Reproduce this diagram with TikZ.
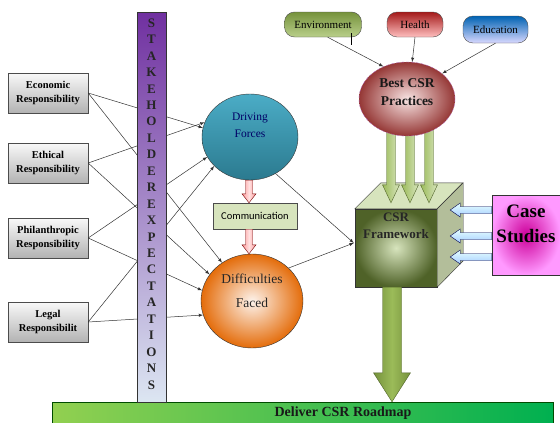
\documentclass[tikz,border=0pt]{standalone}
\usepackage{fontspec}
\setmainfont{Liberation Serif}
\newfontfamily\calfont{Carlito}
\usepackage{tikz}
\usetikzlibrary{shapes,arrows,positioning,calc}

\definecolor{stakeT}{HTML}{7030A0}
\definecolor{stakeM}{HTML}{B3A2C7}
\definecolor{stakeB}{HTML}{DCE6F2}
\definecolor{driveT}{HTML}{4BACC6}
\definecolor{driveB}{HTML}{2B7A8F}
\definecolor{diffIn}{HTML}{FDF3EC}
\definecolor{diffOut}{HTML}{E46C0A}
\definecolor{commG}{HTML}{D7E4BD}
\definecolor{oliveL}{HTML}{D7E4BD}
\definecolor{oliveM}{HTML}{9BBB59}
\definecolor{oliveD}{HTML}{76923C}
\definecolor{oliveX}{HTML}{4F6228}
\definecolor{sideG}{HTML}{B3BE9A}
\definecolor{bestIn}{HTML}{F8E4E3}
\definecolor{bestOut}{HTML}{953735}
\definecolor{caseIn}{HTML}{CC0099}
\definecolor{caseOut}{HTML}{FF99FF}
\definecolor{roadL}{HTML}{92D050}
\definecolor{roadR}{HTML}{00B050}

% block arrow pointing down: style, from, to, half shaft, half head, head length
\newcommand{\dblock}[6]{%
  \path[#1] ($(#2)+(-#4,0)$) -- ($(#2|-#3)+(-#4,-#6)$) -- ($(#2|-#3)+(-#5,-#6)$)
    -- (#2|-#3) -- ($(#2|-#3)+(#5,-#6)$) -- ($(#2|-#3)+(#4,-#6)$)
    -- ($(#2)+(#4,0)$) -- cycle;}
% block arrow pointing left
\newcommand{\lblock}[6]{%
  \path[#1] ($(#2)+(0,-#4)$) -- ($(#3|-#2)+(#6,-#4)$) -- ($(#3|-#2)+(#6,-#5)$)
    -- (#3|-#2) -- ($(#3|-#2)+(#6,#5)$) -- ($(#3|-#2)+(#6,#4)$)
    -- ($(#2)+(0,#4)$) -- cycle;}

\begin{document}
\begin{tikzpicture}[x=1pt, y=-1pt,
  resp/.style={draw=black!70, top color=gray!5, bottom color=gray!60,
               minimum width=80, minimum height=40, align=center, inner sep=1pt,
               font=\fontsize{10.5}{14}\selectfont\bfseries},
  ball/.style={ellipse, draw=black!80, inner sep=0pt},
  tag/.style={draw=black!70, rounded corners=10pt, minimum height=25,
              inner sep=3pt, font=\fontsize{11}{13}\selectfont},
  letter/.style={font=\fontsize{13}{13}\selectfont\bfseries, text=black!85, inner sep=0pt},
  arr/.style={-latex, black!80, line width=0.5pt},
  pinkarr/.style={draw=red!45!black, left color=red!40!white, right color=red!40!white,
                  middle color=red!12!white},
  greenarr/.style={draw=oliveX, left color=oliveM, right color=oliveL},
  bigarr/.style={draw=oliveX, left color=oliveD, right color=oliveD, middle color=oliveM},
  bluearr/.style={draw=blue!30!black, top color=cyan!10!white, bottom color=cyan!45!blue!35!white}
]
\useasboundingbox[fill=white] (0,0) rectangle (560,423);

% responsibilities
\node[resp] (eco)   at (48,93)  {Economic\\Responsibility};
\node[resp] (eth)   at (48,163) {Ethical\\Responsibility};
\node[resp] (phil)  at (48,238) {Philanthropic\\Responsibility};
\node[resp] (legal) at (48,322) {Legal\\Responsibilit};

% forces and difficulties
\node[ball, minimum width=96, minimum height=86, top color=driveT, bottom color=driveB,
      label={[yshift=12, align=center, text=blue!40!black,
              font=\fontsize{11.5}{17}\selectfont]center:{Driving\\Forces}}] (drive) at (250,137) {};
\node[ball, minimum width=102, minimum height=94, inner color=diffIn, outer color=diffOut,
      label={[yshift=10, align=center, text=black!85,
              font=\fontsize{13.5}{24}\selectfont]center:{Difficulties\\Faced}}] (diff) at (252,301) {};
\node[draw=black!70, fill=commG, minimum width=84, minimum height=26,
      font=\calfont\fontsize{10.5}{12}\selectfont] (comm) at (255,216) {Communication};

\coordinate (p1) at ($(drive.south)+(-1,0)$);
\coordinate (p2) at ($(comm.south)+(-6,0)$);
\dblock{pinkarr}{p1}{comm.north}{3.5}{7}{9}
\dblock{pinkarr}{p2}{diff.north}{3.5}{7}{9}

% areas
\node[tag, minimum width=77, top color=oliveD, bottom color=oliveM!70!white] (env) at (323,24.5) {Environment};
\node[tag, minimum width=56, top color=red!60!black!90, bottom color=red!25!white] (health) at (415,24.5) {Health};
\node[tag, minimum width=65, minimum height=27, top color=blue!45!cyan!70!black, bottom color=blue!15!white] (edu) at (495.5,29.5) {Education};

% framework cube
\node[draw=black!80, minimum width=82, minimum height=78, inner color=oliveL, outer color=oliveX] (frame) at (396,248) {};
\draw[black!80, fill=oliveL] (frame.north west) -- ++(26,-26) -- ++(82,0) -- (frame.north east) -- cycle;
\draw[black!80, fill=sideG] (frame.north east) -- ++(26,-26) -- ++(0,78) -- (frame.south east) -- cycle;
\node[font=\fontsize{13}{17}\selectfont\bfseries, align=center, anchor=north, inner sep=0pt,
      text=black!85] (frametxt) at ($(frame.north)+(0,4)$) {CSR\\Framework};

\coordinate (g1) at (391,126);
\coordinate (g2) at (410,126);
\coordinate (g3) at (429,126);
\coordinate (ftop) at ($(frame.north)+(0,-6)$);
\foreach \g in {g1,g2,g3}{
  \dblock{greenarr}{\g}{ftop}{4.5}{8.5}{18}
}

\node[ball, minimum width=96, minimum height=74, inner color=bestIn, outer color=bestOut,
      draw=violet!60, densely dashed,
      label={[yshift=7, align=center, text=black!90,
              font=\fontsize{13.5}{18}\selectfont\bfseries]center:{Best CSR\\Practices}}] (best) at (407,99) {};

\draw[arr] (env.290) -- (best.126);
\draw[arr] (health.south) -- (best.82);
\draw[arr] (edu.south) -- (best.36);
\draw[line width=1.2pt] ($(env.south east)+(-10,-4)$) -- ++(0,12);

% case studies
\node[draw=black!80, minimum width=68, minimum height=80, inner color=caseIn, outer color=caseOut,
      label={[yshift=11, align=center, text=black,
              font=\fontsize{19}{25}\selectfont\bfseries]center:{Case\\Studies}}] (case) at (526,235) {};
\coordinate (c1) at ($(case.west)+(0,-25)$);
\coordinate (c2) at ($(case.west)+(0,1)$);
\coordinate (c3) at ($(case.west)+(0,22)$);
\coordinate (stip) at ($(frame.east)+(13,0)$);
\foreach \c in {c1,c2,c3}{
  \lblock{bluearr}{\c}{stip}{3.5}{7}{10}
}

% roadmap
\node[draw=green!30!black, minimum width=501, minimum height=30, left color=roadL, right color=roadR] (road) at (302.5,417) {};
\node[font=\fontsize{14}{16}\selectfont\bfseries, text=black!90] (roadtxt) at (343,413) {Deliver CSR Roadmap};
\coordinate (fb) at ($(frame.south)+(-4,0)$);
\dblock{bigarr}{fb}{road.north}{9.5}{18.5}{29}

% connectors
\foreach \b/\a/\c in {eco/169/128, eth/162/148, phil/205/168, legal/219/196} {
  \draw[arr] (\b.east) -- (drive.\a);
  \draw[arr] (\b.east) -- (diff.\c);
}
\coordinate (fin) at ($(frame.west)+(-1,-5)$);
\draw[arr] (drive.305) -- (fin);
\draw[arr] (diff.42) -- (fin);

% stakeholder expectations
\node[draw=black!80, minimum width=29, minimum height=390, inner sep=0pt,
      top color=stakeT, middle color=stakeM, bottom color=stakeB] (stake) at (151.5,207) {};
\foreach \ch [count=\i from 0] in {S,T,A,K,E,H,O,L,D,E,R,E,X,P,E,C,T,A,T,I,O,N,S}
  \node[letter] (s\i) at (151.5,23+16.45*\i) {\ch};
\end{tikzpicture}
\end{document}
